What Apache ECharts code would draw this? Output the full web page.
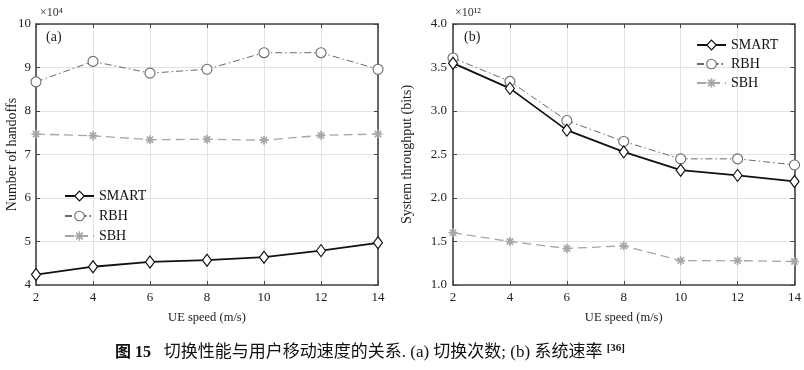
<!DOCTYPE html>
<html><head><meta charset="utf-8">
<script src="https://cdn.jsdelivr.net/npm/echarts@6/dist/echarts.min.js"></script>
<style>html,body{margin:0;padding:0;background:#fff}#c{width:804px;height:370px}</style>
</head><body><div id="c"></div>
<script>
const speeds = [2, 4, 6, 8, 10, 12, 14];
const handoffSMART = [4.24, 4.42, 4.53, 4.57, 4.64, 4.79, 4.97];
const handoffRBH = [8.67, 9.14, 8.87, 8.96, 9.34, 9.34, 8.96];
const handoffSBH = [7.47, 7.43, 7.34, 7.35, 7.33, 7.44, 7.47];
const thrSMART = [3.55, 3.26, 2.78, 2.53, 2.32, 2.26, 2.19];
const thrRBH = [3.61, 3.34, 2.89, 2.65, 2.45, 2.45, 2.38];
const thrSBH = [1.60, 1.50, 1.42, 1.45, 1.28, 1.28, 1.27];
const seriesNames = ['SMART', 'RBH', 'SBH'];

const SERIF = '"Liberation Serif","DejaVu Serif",serif';
const star = 'path://M0,-10L0,10M-10,0L10,0M-7,-7L7,7M-7,7L7,-7';
const pair = (xs, ys) => xs.map((x, i) => [x, ys[i]]);

const styles = {
  SMART: {lineStyle: {color: '#111', width: 1.8, type: 'solid'}, symbol: 'diamond', symbolSize: [9, 12],
          itemStyle: {color: '#fff', borderColor: '#111', borderWidth: 1.2}},
  RBH: {lineStyle: {color: '#6a6a6a', width: 1, type: [7, 3, 1.5, 3]}, symbol: 'circle', symbolSize: 10,
        itemStyle: {color: '#fff', borderColor: '#6a6a6a', borderWidth: 1.1}},
  SBH: {lineStyle: {color: '#a6a6a6', width: 1.3, type: [9, 5]}, symbol: star, symbolSize: 9,
        itemStyle: {color: '#a6a6a6', borderColor: '#a6a6a6', borderWidth: 1.6}}
};

function mk(name, data, gi) {
  const s = styles[name];
  return {type: 'line', name: name, data: data, xAxisIndex: gi, yAxisIndex: gi,
    showSymbol: true, animation: false, z: name === 'SMART' ? 5 : 4,
    lineStyle: s.lineStyle, symbol: s.symbol, symbolSize: s.symbolSize, itemStyle: s.itemStyle};
}

const axisLine = {show: true, lineStyle: {color: '#444', width: 1.6}};
const splitLine = {show: true, lineStyle: {color: '#e2e2e2', width: 1}};
const lbl = {color: '#222', fontFamily: SERIF, fontSize: 13};
const tick = {show: true, inside: true, length: 4, lineStyle: {color: '#444'}};

function xAx(gi) {
  return {type: 'value', gridIndex: gi, min: 2, max: 14, interval: 2, name: 'UE speed (m/s)',
    nameLocation: 'middle', nameGap: 26, nameMoveOverlap: false,
    nameTextStyle: {color: '#222', fontFamily: SERIF, fontSize: 12.5},
    axisLine: axisLine, axisTick: tick,
    axisLabel: Object.assign({margin: 6}, lbl), splitLine: splitLine};
}
function xTop(gi) {
  return {type: 'value', gridIndex: gi, min: 2, max: 14, interval: 2, position: 'top',
    axisLine: axisLine, axisTick: tick, axisLabel: {show: false}, splitLine: {show: false}};
}
const yLeft = {type: 'value', gridIndex: 0, min: 4, max: 10, interval: 1, name: 'Number of handoffs',
  nameLocation: 'middle', nameGap: 17, nameMoveOverlap: false,
  nameTextStyle: {color: '#222', fontFamily: SERIF, fontSize: 14},
  axisLine: axisLine, axisTick: tick,
  axisLabel: Object.assign({margin: 5}, lbl), splitLine: splitLine};
const yRight = {type: 'value', gridIndex: 1, min: 1, max: 4, interval: 0.5, name: 'System throughput (bits)',
  nameLocation: 'middle', nameGap: 39, nameMoveOverlap: false,
  nameTextStyle: {color: '#222', fontFamily: SERIF, fontSize: 14},
  axisLine: axisLine, axisTick: tick,
  axisLabel: Object.assign({margin: 6, formatter: v => v.toFixed(1)}, lbl), splitLine: splitLine};
function yR(gi, min, max, itv) {
  return {type: 'value', gridIndex: gi, min: min, max: max, interval: itv, position: 'right',
    axisLine: axisLine, axisTick: tick, axisLabel: {show: false}, splitLine: {show: false}};
}

const legendText = {color: '#111', fontFamily: SERIF, fontSize: 14};
const legendData = seriesNames.map(n => ({name: n, itemStyle: styles[n].itemStyle}));
const option = {
  backgroundColor: '#fff',
  animation: false,
  grid: [
    {left: 36, top: 24, width: 342, height: 261},
    {left: 453, top: 24, width: 342, height: 261}
  ],
  xAxis: [xAx(0), xAx(1), xTop(0), xTop(1)],
  yAxis: [yLeft, yRight, yR(0, 4, 10, 1), yR(1, 1, 4, 0.5)],
  legend: [
    {data: legendData, orient: 'vertical', left: 64, top: 189, itemWidth: 29, itemHeight: 12, itemGap: 6,
     textStyle: legendText, padding: 0},
    {data: legendData, orient: 'vertical', left: 696, top: 38, itemWidth: 29, itemHeight: 12, itemGap: 5,
     textStyle: legendText, padding: 0}
  ],
  series: [
    mk('SMART', pair(speeds, handoffSMART), 0),
    mk('RBH', pair(speeds, handoffRBH), 0),
    mk('SBH', pair(speeds, handoffSBH), 0),
    mk('SMART', pair(speeds, thrSMART), 1),
    mk('RBH', pair(speeds, thrRBH), 1),
    mk('SBH', pair(speeds, thrSBH), 1)
  ],
  graphic: [
    {type: 'text', left: 40, top: 7, style: {text: '×10⁴', fill: '#333', font: '12px ' + SERIF}},
    {type: 'text', left: 455, top: 7, style: {text: '×10¹²', fill: '#333', font: '12px ' + SERIF}},
    {type: 'text', left: 46, top: 30, style: {text: '(a)', fill: '#222', font: '14px ' + SERIF}},
    {type: 'text', left: 464, top: 30, style: {text: '(b)', fill: '#222', font: '14px ' + SERIF}},
    {type: 'text', left: 115, top: 343, style: {
      rich: {
        b: {font: 'bold 16px "Liberation Serif","Noto Sans CJK SC",serif', fill: '#111'},
        n: {font: '17px "Liberation Serif","Noto Sans CJK SC",serif', fill: '#111'},
        s: {font: 'bold 11px "Liberation Serif",serif', fill: '#111', verticalAlign: 'top', padding: [0, 0, 9, 0]}
      },
      text: '{b|图 15}{n|   切换性能与用户移动速度的关系. (a) 切换次数; (b) 系统速率 }{s|[36]}'
    }}
  ]
};
const chart = echarts.init(document.getElementById('c'), null, {renderer: 'canvas'});
chart.setOption(option);
</script></body></html>
